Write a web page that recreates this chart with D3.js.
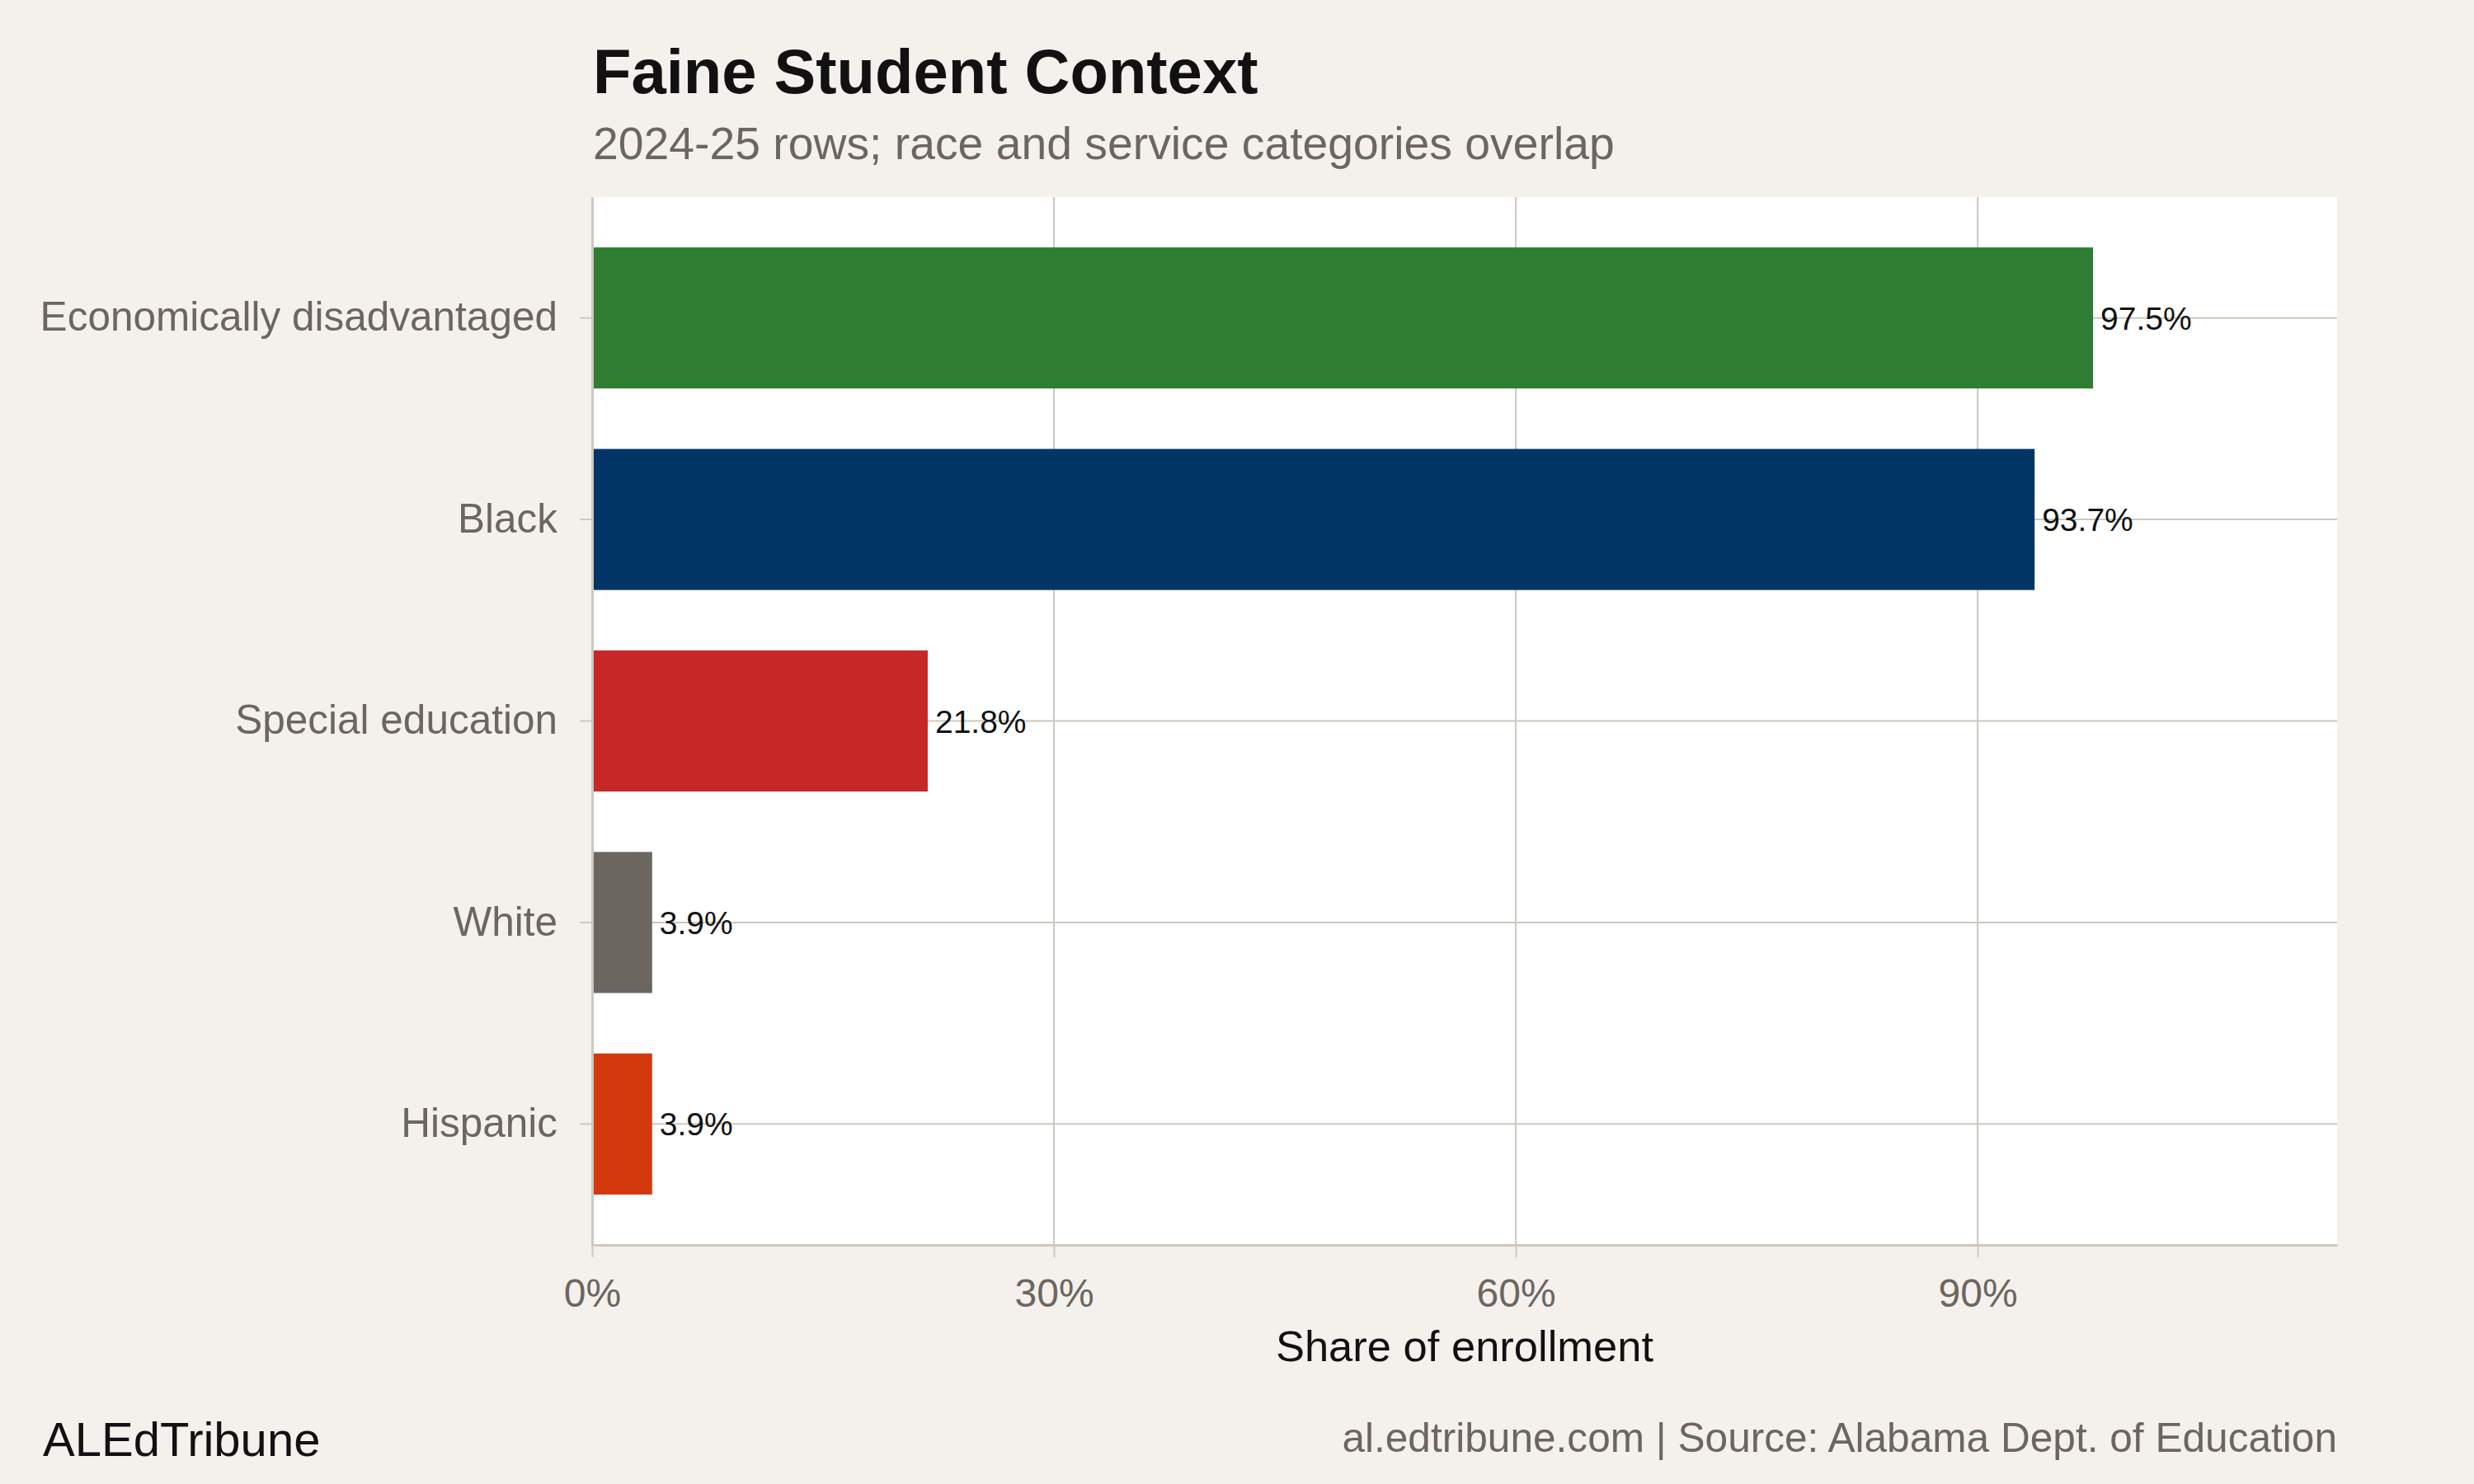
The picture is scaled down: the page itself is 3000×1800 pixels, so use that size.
<!DOCTYPE html>
<html>
<head>
<meta charset="utf-8">
<script src="https://cdn.jsdelivr.net/npm/d3@7"></script>
<style>
  body { margin: 0; background: #f4f1ec; }
  svg text { font-family: "Liberation Sans", Arial, sans-serif; }
</style>
</head>
<body>
<div id="chart"></div>
<script>
const categories = ['Economically disadvantaged', 'Black', 'Special education', 'White', 'Hispanic']
const shares = [97.5, 93.7, 21.8, 3.9, 3.9]
const barColours = ['#2e7d32', '#003566', '#c62828', '#6b6660', '#d4380d']
const xTicks = [0, 30, 60, 90]

const width = 3000
const height = 1800
const margin = { top: 239, right: 166, bottom: 290, left: 718 }

const svg = d3.select('#chart')
  .append('svg')
  .attr('width', width)
  .attr('height', height)

svg.append('rect')
  .attr('width', width)
  .attr('height', height)
  .attr('fill', '#f4f1ec')

const x = d3.scaleLinear()
  .domain([0, 113.35])
  .range([margin.left, width - margin.right])

const y = d3.scaleBand()
  .domain(categories)
  .range([margin.top, height - margin.bottom])
  .paddingInner(0.3)
  .paddingOuter(0.25)

// panel
svg.append('rect')
  .attr('x', x(0))
  .attr('y', margin.top)
  .attr('width', x.range()[1] - x(0))
  .attr('height', height - margin.bottom - margin.top)
  .attr('fill', 'white')

const grid = svg.append('g')
  .attr('stroke', '#cdc8c0')
  .attr('stroke-width', 2)

grid.selectAll('.vgrid')
  .data(xTicks)
  .join('line')
  .attr('x1', d => x(d))
  .attr('x2', d => x(d))
  .attr('y1', margin.top)
  .attr('y2', height - margin.bottom)

grid.selectAll('.hgrid')
  .data(categories)
  .join('line')
  .attr('x1', x(0))
  .attr('x2', x.range()[1])
  .attr('y1', d => y(d) + y.bandwidth() / 2)
  .attr('y2', d => y(d) + y.bandwidth() / 2)

// bars
svg.selectAll('.bar')
  .data(categories)
  .join('rect')
  .attr('class', 'bar')
  .attr('x', x(0))
  .attr('y', d => y(d))
  .attr('width', (d, i) => x(shares[i]) - x(0))
  .attr('height', y.bandwidth())
  .attr('fill', (d, i) => barColours[i])

svg.selectAll('.value')
  .data(categories)
  .join('text')
  .attr('class', 'value')
  .attr('x', (d, i) => x(shares[i]) + 9)
  .attr('y', d => y(d) + y.bandwidth() / 2)
  .attr('dy', '0.36em')
  .attr('font-size', 39)
  .attr('fill', '#111')
  .text((d, i) => shares[i].toFixed(1) + '%')

// axes
const xAxis = svg.append('g')
  .attr('transform', `translate(0,${height - margin.bottom})`)
  .call(d3.axisBottom(x).tickValues(xTicks).tickFormat(d => d + '%').tickSize(15).tickSizeOuter(0).tickPadding(26))
xAxis.select('.domain').attr('stroke', '#cdc8c0').attr('stroke-width', 3)
xAxis.selectAll('.tick line').attr('stroke', '#cdc8c0').attr('stroke-width', 2)
xAxis.selectAll('.tick text')
  .attr('font-size', 48)
  .attr('fill', '#6b6660')
  .attr('font-family', '"Liberation Sans", Arial, sans-serif')

const yAxis = svg.append('g')
  .attr('transform', `translate(${x(0)},0)`)
  .call(d3.axisLeft(y).tickSize(15).tickSizeOuter(0).tickPadding(27))
yAxis.select('.domain').attr('stroke', '#cdc8c0').attr('stroke-width', 3)
yAxis.selectAll('.tick line').attr('stroke', '#cdc8c0').attr('stroke-width', 2)
yAxis.selectAll('.tick text')
  .attr('font-size', 49.5)
  .attr('fill', '#6b6660')
  .attr('font-family', '"Liberation Sans", Arial, sans-serif')

svg.append('text')
  .attr('x', (x(0) + x.range()[1]) / 2)
  .attr('y', 1651)
  .attr('text-anchor', 'middle')
  .attr('font-size', 52.5)
  .attr('fill', '#111')
  .text('Share of enrollment')

// titles
svg.append('text')
  .attr('x', 719)
  .attr('y', 113)
  .attr('font-size', 76)
  .attr('font-weight', 'bold')
  .attr('fill', '#111')
  .text('Faine Student Context')

svg.append('text')
  .attr('x', 719)
  .attr('y', 193)
  .attr('font-size', 55.3)
  .attr('fill', '#6b6660')
  .text('2024-25 rows; race and service categories overlap')

// footer
svg.append('text')
  .attr('x', 52)
  .attr('y', 1766)
  .attr('font-size', 58)
  .attr('fill', '#111')
  .text('ALEdTribune')

svg.append('text')
  .attr('x', x.range()[1])
  .attr('y', 1761)
  .attr('text-anchor', 'end')
  .attr('font-size', 49.6)
  .attr('fill', '#6b6660')
  .text('al.edtribune.com | Source: Alabama Dept. of Education')
</script>
</body>
</html>
